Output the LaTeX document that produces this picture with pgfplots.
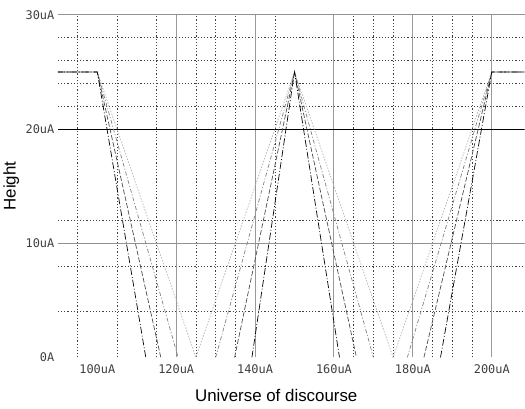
\documentclass[border=0pt]{standalone}
\usepackage{fontspec}
\setmainfont{Liberation Sans}
\newfontfamily\monofont{DejaVu Sans Mono}
\usepackage{pgfplots}
\pgfplotsset{compat=1.18}

\begin{document}
\begin{tikzpicture}
\begin{axis}[
    scale only axis,
    width=470pt, height=345pt,
    xmin=90, xmax=208.3,
    ymin=0, ymax=30,
    axis line style={draw=none},
    tick style={draw=none},
    xtick={100,120,140,160,180,200},
    xticklabels={100uA,120uA,140uA,160uA,180uA,200uA},
    ytick={0,10,20,30},
    yticklabels={0A,10uA,20uA,30uA},
    minor xtick={95,105,115,125,130,135,145,165,170,175,185,190,195},
    minor ytick={4,8,12,22,24,26,28},
    minor grid style={black!75, line width=0.6pt, dash pattern=on 1.2pt off 2pt},
    xminorgrids, yminorgrids,
    extra x ticks={120,140,160,180,200},
    extra x tick labels={},
    extra x tick style={grid=major, major grid style={gray!80, line width=1pt}},
    extra y ticks={10,30},
    extra y tick labels={},
    extra y tick style={grid=major, major grid style={gray!85, line width=1pt}},
    tick label style={font=\monofont\fontsize{12}{14}\selectfont, text=black!75},
    xticklabel style={yshift=-4pt},
    xlabel={Universe of discourse},
    ylabel={Height},
    label style={font=\fontsize{17}{20}\selectfont},
    xlabel style={at={(axis description cs:0.468,-0.110)}, anchor=center},
    ylabel style={at={(axis description cs:-0.100,0.5)}, anchor=center},
    unbounded coords=jump,
]
% dark solid line at 20uA
\addplot[black, line width=1.1pt, forget plot] coordinates {(90,20) (208.3,20)};

% width 25
\addplot[gray!60, line width=0.7pt, dash pattern=on 1.5pt off 1.5pt] coordinates {
    (90,25) (100,25) (125,0) (150,25) (175,0) (200,25) (208.3,25)
};
% width ~20
\addplot[gray, line width=0.7pt, dash pattern=on 4pt off 2pt on 1pt off 2pt] coordinates {
    (90,25) (100,25) (120.5,0) (125,nan) (130,0) (150,25) (170,0) (175,nan) (178.6,0) (200,25) (208.3,25)
};
% width ~15
\addplot[black!70, line width=0.7pt, dash pattern=on 5pt off 2pt] coordinates {
    (90,25) (100,25) (116.1,0) (125,nan) (134.8,0) (150,25) (165.7,0) (175,nan) (182.8,0) (200,25) (208.3,25)
};
% width ~11
\addplot[black, line width=0.7pt, dash pattern=on 7pt off 2pt on 1pt off 2pt] coordinates {
    (90,25) (100,25) (112.3,0) (125,nan) (139.2,0) (150,25) (161.4,0) (175,nan) (187,0) (200,25) (208.3,25)
};
\end{axis}
\path (current axis.south west) ++(-55pt,-51pt) coordinate (bbA);
\path (current axis.north east) ++(0pt,15pt) coordinate (bbB);
\path (bbA) rectangle (bbB);
\end{tikzpicture}
\end{document}
